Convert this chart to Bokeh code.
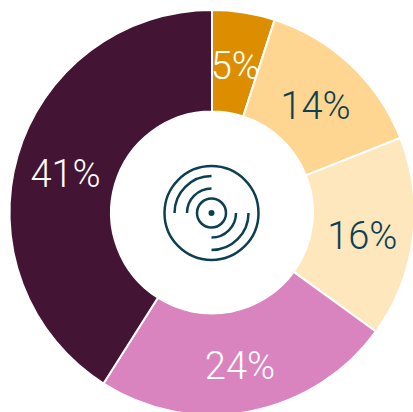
import math
from bokeh.plotting import figure
from bokeh.embed import file_html
from bokeh.resources import INLINE
from bokeh.core.properties import value

categories = ["A", "B", "C", "D", "E"]
shares = [5, 14, 16, 24, 41]
labels = ["5%", "14%", "16%", "24%", "41%"]
colors = ["#dc8e00", "#fed692", "#fee6bd", "#d983bf", "#441434"]
label_colors = ["#ffffff", "#0d3f52", "#0d3f52", "#ffffff", "#ffffff"]

W, H = 413, 412
CX, CY = 211.5, 212
R_OUT, R_IN = 202.5, 101
ICON = "#0d3f52"
ICON_W = 2.5

p = figure(width=W, height=H, x_range=(-CX, W - CX), y_range=(-(H - CY), CY),
           toolbar_location=None, output_backend="svg", min_border=0, outline_line_color=None,
           background_fill_color=None, border_fill_color=None)
p.axis.visible = False
p.grid.visible = False

start = 0.0
total = sum(shares)
for s, c, lab, lc in zip(shares, colors, labels, label_colors):
    end = start + s / total
    a0 = math.pi / 2 - 2 * math.pi * start
    a1 = math.pi / 2 - 2 * math.pi * end
    p.annular_wedge(x=0, y=0, inner_radius=R_IN, outer_radius=R_OUT, start_angle=a1, end_angle=a0,
                    fill_color=c, line_color="#ffffff", line_width=2)
    mid = (a0 + a1) / 2
    p.text(x=[152 * math.cos(mid) - 0.5], y=[152 * math.sin(mid)], text=[lab], text_color=lc, y_offset=4,
           text_font=value("Roboto Light"), text_font_size="38px", text_align="center", text_baseline="middle")
    start = end

# record icon
p.circle(x=-0.5, y=-0.5, radius=47, fill_color=None, line_color=ICON, line_width=ICON_W)
p.circle(x=-0.5, y=-0.5, radius=14.5, fill_color=None, line_color=ICON, line_width=ICON_W)
p.circle(x=-0.5, y=-0.5, radius=3, fill_color=ICON, line_color=ICON, line_width=0)
for r in (37, 24.5):
    p.arc(x=-0.5, y=-0.5, radius=r, start_angle=math.pi / 2, end_angle=math.pi, line_color=ICON, line_width=ICON_W)
    p.arc(x=-0.5, y=-0.5, radius=r, start_angle=3 * math.pi / 2, end_angle=2 * math.pi, line_color=ICON, line_width=ICON_W)

open("out.html", "w").write(file_html(p, INLINE))
